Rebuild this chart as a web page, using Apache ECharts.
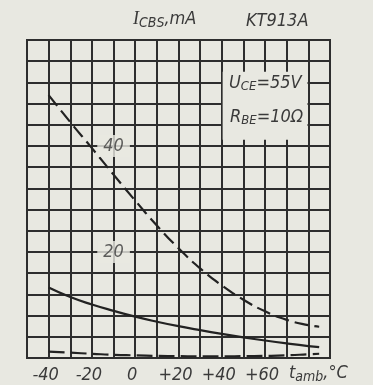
<!DOCTYPE html>
<html>
<head>
<meta charset="utf-8">
<script src="https://cdn.jsdelivr.net/npm/echarts@6/dist/echarts.min.js"></script>
<style>
html,body{margin:0;padding:0;background:#e8e8e1;}
#c{width:373px;height:385px;}
</style>
</head>
<body>
<div id="c"></div>
<script>
// ---- data ----
const temps = [-40, -30, -20, -10, 0, 10, 20, 30, 40, 50, 60, 70, 80, 85];
const iUpperDashed = [49.6, 44.5, 39.6, 34.6, 29.7, 25.0, 20.7, 16.9, 13.7, 11.0, 8.8, 7.2, 6.2, 5.9];
const iSolid = [13.3, 11.5, 10.1, 8.9, 7.8, 6.85, 6.0, 5.25, 4.55, 3.9, 3.3, 2.75, 2.25, 2.05];
const iLowerDashed = [1.2, 1.0, 0.8, 0.6, 0.5, 0.4, 0.35, 0.3, 0.3, 0.35, 0.4, 0.5, 0.7, 0.8];
const xTickValues = [-40, -20, 0, 20, 40, 60];
const xTickLabels = ['-40', '-20', '0', '+20', '+40', '+60'];
const yTickValues = [40, 20];
const yTickLabelPos = -10;

const BG = '#e8e8e1';
const INK = '#2e2e2e';
const TXT = '#3a3a3a';
const FONT = "'Liberation Sans Narrow','DejaVu Sans Condensed','Liberation Sans',sans-serif";

const pairs = (xs, ys) => xs.map((x, i) => [x, ys[i]]);

const chart = echarts.init(document.getElementById('c'), null, {renderer: 'canvas'});
chart.setOption({
  backgroundColor: BG,
  animation: false,
  grid: {left: 27, right: 43, top: 40, bottom: 27, show: true, borderColor: INK, borderWidth: 2, backgroundColor: 'transparent'},
  xAxis: {
    type: 'value', min: -50, max: 90, interval: 10,
    axisLine: {show: false}, axisTick: {show: false},
    splitLine: {show: true, lineStyle: {color: INK, width: 2}},
    axisLabel: {
      margin: 8, color: TXT, fontSize: 18, fontStyle: 'italic', fontFamily: FONT,
      padding: [0, 6, 0, 0],
      formatter: v => { const k = xTickValues.indexOf(v); return k >= 0 ? xTickLabels[k] : ''; }
    }
  },
  yAxis: {
    type: 'value', min: 0, max: 60, interval: 4,
    axisLine: {show: false}, axisTick: {show: false}, axisLabel: {show: false},
    splitLine: {show: true, lineStyle: {color: INK, width: 2}}
  },
  series: [
    {
      type: 'line', data: pairs(temps, iUpperDashed), smooth: 0.5, symbol: 'none',
      lineStyle: {color: '#222', width: 2.2, type: [14, 6]}, z: 5,
      markArea: {
        silent: true,
        itemStyle: {color: BG, opacity: 1},
        data: [[{xAxis: 40.4, yAxis: 41.2}, {xAxis: 79.6, yAxis: 54}]]
      }
    },
    {
      type: 'line', data: pairs(temps, iSolid), smooth: 0.5, symbol: 'none',
      lineStyle: {color: '#222', width: 2.2}, z: 5
    },
    {
      type: 'line', data: pairs(temps, iLowerDashed), smooth: 0.5, symbol: 'none',
      lineStyle: {color: '#222', width: 2.2, type: [16, 6]}, z: 5
    },
    {
      type: 'scatter', data: yTickValues.map(v => [yTickLabelPos, v]), symbolSize: 0, z: 6,
      label: {
        show: true, position: 'inside', formatter: p => String(p.value[1]),
        color: TXT, fontSize: 18, fontStyle: 'italic', fontFamily: FONT,
        backgroundColor: BG, padding: [3, 6, 1, 6]
      }
    }
  ],
  graphic: [
    {
      type: 'text', left: 133, top: 10, z: 10,
      style: {
        text: '{i|I}{s|CBS}{n|,mA}', fill: TXT,
        rich: {
          i: {fontSize: 18, fontStyle: 'italic', fontFamily: "'Liberation Serif',serif", fill: TXT},
          s: {fontSize: 14, fontStyle: 'italic', fontFamily: FONT, fill: TXT, padding: [8, 0, 0, 0]},
          n: {fontSize: 18, fontStyle: 'italic', fontFamily: FONT, fill: TXT}
        }
      }
    },
    {
      type: 'text', left: 246, top: 12, z: 10,
      style: {text: 'KT913A', fontSize: 18, fontStyle: 'italic', fontFamily: FONT, fill: TXT}
    },
    {
      type: 'text', left: 229, top: 74, z: 10,
      style: {
        text: '{a|U}{s|CE}{a|=55V}', fill: TXT,
        rich: {
          a: {fontSize: 18, fontStyle: 'italic', fontFamily: FONT, fill: TXT},
          s: {fontSize: 13, fontStyle: 'italic', fontFamily: FONT, fill: TXT, padding: [8, 0, 0, 0]}
        }
      }
    },
    {
      type: 'text', left: 230, top: 108, z: 10,
      style: {
        text: '{a|R}{s|BE}{a|=10Ω}', fill: TXT,
        rich: {
          a: {fontSize: 18, fontStyle: 'italic', fontFamily: FONT, fill: TXT},
          s: {fontSize: 13, fontStyle: 'italic', fontFamily: FONT, fill: TXT, padding: [8, 0, 0, 0]}
        }
      }
    },
    {
      type: 'text', left: 289, top: 364, z: 10,
      style: {
        text: '{a|t}{s|amb}{a|,°C}', fill: TXT,
        rich: {
          a: {fontSize: 18, fontStyle: 'italic', fontFamily: FONT, fill: TXT},
          s: {fontSize: 14, fontStyle: 'italic', fontFamily: FONT, fill: TXT, padding: [8, 0, 0, 0]}
        }
      }
    }
  ]
});
</script>
</body>
</html>
